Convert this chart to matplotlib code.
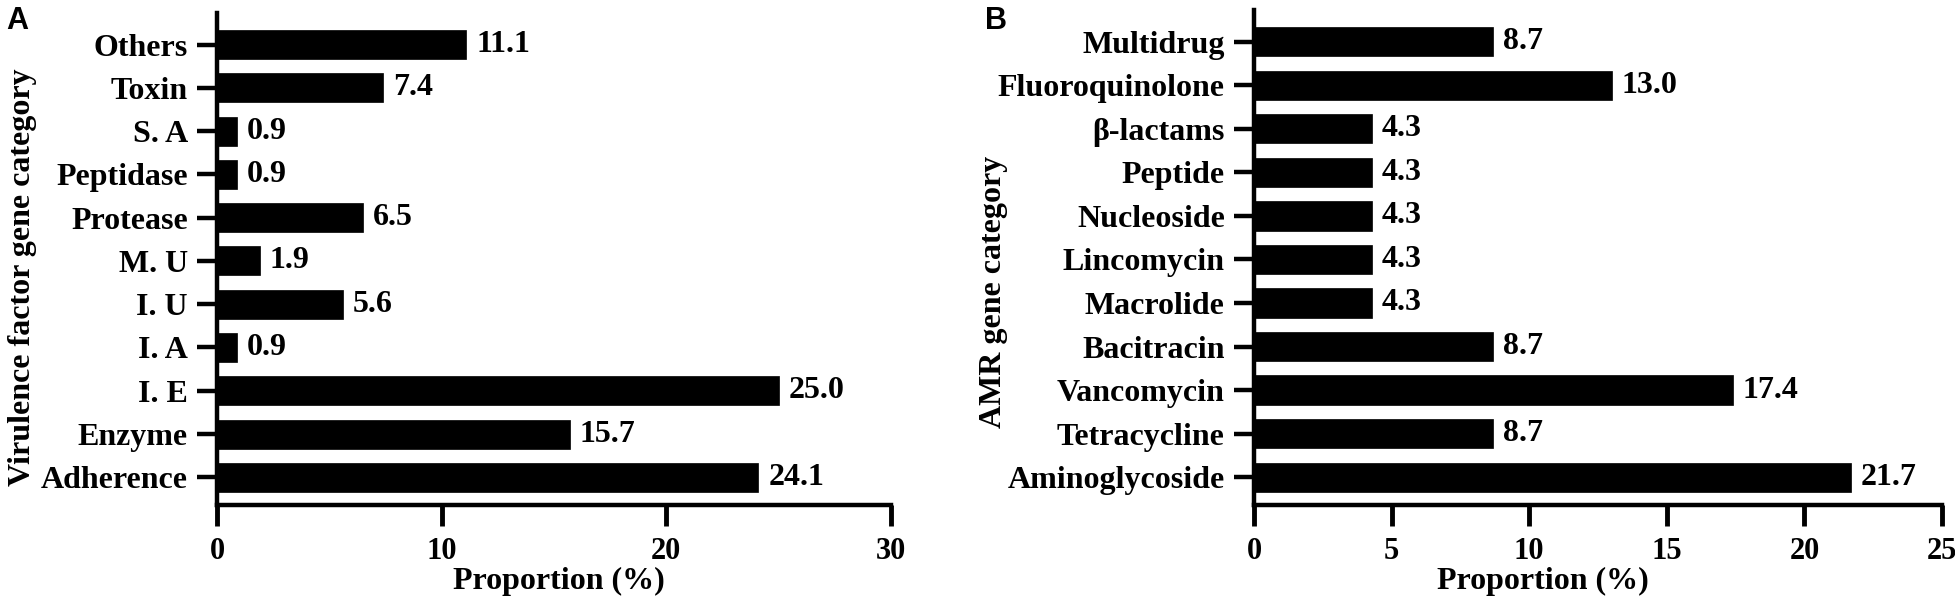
import numpy as np
import matplotlib
matplotlib.use("Agg")
import matplotlib.pyplot as plt

# panel A: virulence factor categories (bottom to top)
vf_cats = ["Adherence", "Enzyme", "I. E", "I. A", "I. U", "M. U",
           "Protease", "Peptidase", "S. A", "Toxin", "Others"]
vf_vals = [24.1, 15.7, 25.0, 0.9, 5.6, 1.9, 6.5, 0.9, 0.9, 7.4, 11.1]

# panel B: AMR gene categories (bottom to top)
amr_cats = ["Aminoglycoside", "Tetracycline", "Vancomycin", "Bacitracin",
            "Macrolide", "Lincomycin", "Nucleoside", "Peptide",
            "\u03b2-lactams", "Fluoroquinolone", "Multidrug"]
amr_vals = [21.7, 8.7, 17.4, 8.7, 4.3, 4.3, 4.3, 4.3, 4.3, 13.0, 8.7]

plt.rcParams["font.family"] = ["Liberation Serif", "DejaVu Serif"]
plt.rcParams["font.weight"] = "bold"
plt.rcParams["font.size"] = 23

W, H = 1955, 602
fig = plt.figure(figsize=(W / 100, H / 100), dpi=100)


def panel(rect, cats, vals, xmax, xstep, ylab, ylab_xy, xlab_x):
    ax = fig.add_axes(rect)
    y = np.arange(len(cats))
    bars = ax.barh(y, vals, height=0.67, color="black", edgecolor="black", linewidth=0.5)
    ax.bar_label(bars, labels=["%.1f" % v for v in vals], padding=7,
                 fontsize=23, fontweight="bold")
    ax.set_xlim(0, xmax)
    ax.set_ylim(-0.64, len(cats) - 1 + 0.73)
    ax.set_xticks(np.arange(0, xmax + 0.1, xstep))
    ax.set_yticks(y)
    ax.set_yticklabels(cats)
    for s in ["top", "right"]:
        ax.spines[s].set_visible(False)
    for s in ["left", "bottom"]:
        ax.spines[s].set_linewidth(3.2)
    ax.tick_params(axis="y", length=14.5, width=3.2, pad=6.5, labelsize=23)
    ax.tick_params(axis="x", length=15, width=3.5, pad=8, labelsize=22)
    ax.set_xlabel("Proportion (%)", fontsize=23, fontweight="bold")
    ax.xaxis.set_label_coords(xlab_x, -0.125)
    ax.text(ylab_xy[0], ylab_xy[1], ylab, transform=ax.transAxes, rotation=90,
            ha="center", va="center", fontsize=23, fontweight="bold")
    return ax


axA = panel([217 / W, 97 / H, 674 / W, 492 / H], vf_cats, vf_vals, 30, 10,
            "Virulence factor gene category", (-0.289, 0.463), 0.507)
axB = panel([1254 / W, 97 / H, 688 / W, 495 / H], amr_cats, amr_vals, 25, 5,
            "AMR gene category", (-0.378, 0.43), 0.42)

fig.text(6 / W, 1 - 6 / H, "A", family="Liberation Sans", fontweight="bold",
         fontsize=22, ha="left", va="top")
fig.text(985 / W, 1 - 6 / H, "B", family="Liberation Sans", fontweight="bold",
         fontsize=22, ha="left", va="top")

fig.savefig("out.png", dpi=100)
